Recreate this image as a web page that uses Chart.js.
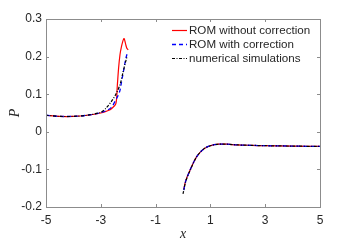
<!DOCTYPE html>
<html>
<head>
<meta charset="utf-8">
<script src="https://cdn.jsdelivr.net/npm/chart.js@4/dist/chart.umd.min.js"></script>
<style>
  html, body { margin: 0; padding: 0; background: #fff; }
  #wrap { width: 354px; height: 243px; }
</style>
</head>
<body>
<div id="wrap"><canvas id="myChart"></canvas></div>
<script>
// left branch (x < -2)
const leftX = [-5, -4.5, -4, -3.5, -3, -2.75, -2.6, -2.45, -2.4, -2.35, -2.3, -2.25, -2.2, -2.15, -2.1, -2.05, -2.0];
const leftRed = [0.044, 0.041, 0.041, 0.044, 0.050, 0.056, 0.062, 0.075, 0.12, 0.17, 0.205, 0.225, 0.24, 0.248, 0.235, 0.222, 0.218];
const leftBlue = [0.044, 0.041, 0.041, 0.044, 0.051, 0.058, 0.066, 0.085, 0.092, 0.10, 0.11, 0.13, 0.15, 0.17, 0.19, 0.205, 0.213];
const leftBlackX = [-5, -4.5, -4, -3.5, -3, -2.8, -2.6, -2.45, -2.3, -2.2, -2.1, -2.05];
const leftBlack = [0.044, 0.041, 0.041, 0.044, 0.052, 0.064, 0.082, 0.10, 0.125, 0.155, 0.185, 0.198];

// right branch (x > 0)
const rightX = [0.03, 0.1, 0.25, 0.5, 0.75, 1, 1.3, 1.6, 2, 2.5, 3, 4, 5];
const rightRed = [-0.152, -0.13, -0.103, -0.066, -0.046, -0.037, -0.033, -0.033, -0.035, -0.036, -0.037, -0.038, -0.039];
const rightBlue = [-0.155, -0.131, -0.103, -0.066, -0.046, -0.037, -0.033, -0.033, -0.035, -0.036, -0.037, -0.038, -0.039];
const rightBlackX = [0, 0.1, 0.25, 0.5, 0.75, 1, 1.3, 1.6, 2, 2.5, 3, 4, 5];
const rightBlack = [-0.165, -0.132, -0.104, -0.066, -0.046, -0.037, -0.033, -0.033, -0.035, -0.036, -0.037, -0.038, -0.039];

const xTicks = [-5, -3, -1, 1, 3, 5];
const yTicks = [-0.2, -0.1, 0, 0.1, 0.2, 0.3];
const labels = ['ROM without correction', 'ROM with correction', 'numerical simulations'];

function joinBranches(x1, y1, x2, y2) {
    const pts = x1.map((x, i) => ({ x: x, y: y1[i] }));
    pts.push({ x: -1, y: null });
    x2.forEach((x, i) => pts.push({ x: x, y: y2[i] }));
    return pts;
}

// box with inward ticks on all four sides
const frame = {
    id: 'frame',
    afterDatasetsDraw(chart) {
        const { ctx, chartArea: a, scales } = chart;
        ctx.save();
        ctx.strokeStyle = '#8c8c8c';
        ctx.lineWidth = 1;
        ctx.strokeRect(a.left + 0.5, a.top + 0.5, a.right - a.left, a.bottom - a.top);
        ctx.beginPath();
        xTicks.forEach(v => {
            const px = Math.round(scales.x.getPixelForValue(v)) + 0.5;
            ctx.moveTo(px, a.bottom); ctx.lineTo(px, a.bottom - 3);
            ctx.moveTo(px, a.top); ctx.lineTo(px, a.top + 3);
        });
        yTicks.forEach(v => {
            const py = Math.round(scales.y.getPixelForValue(v)) + 0.5;
            ctx.moveTo(a.left, py); ctx.lineTo(a.left + 3, py);
            ctx.moveTo(a.right, py); ctx.lineTo(a.right - 3, py);
        });
        ctx.stroke();
        ctx.restore();
    }
};

// legend in the top right corner, no box
const legendBox = {
    id: 'legendBox',
    afterDraw(chart) {
        const { ctx, chartArea: a } = chart;
        ctx.save();
        ctx.font = '11.6px "Liberation Sans"';
        ctx.textBaseline = 'middle';
        chart.data.datasets.forEach((ds, i) => {
            const y = a.top + 11.5 + i * 14;
            const x0 = a.right - 148;
            ctx.strokeStyle = ds.borderColor;
            ctx.lineWidth = ds.borderWidth;
            ctx.setLineDash(ds.borderDash || []);
            ctx.beginPath();
            ctx.moveTo(x0, y);
            ctx.lineTo(x0 + 15, y);
            ctx.stroke();
            ctx.setLineDash([]);
            ctx.fillStyle = '#262626';
            ctx.fillText(ds.label, x0 + 17, y);
        });
        ctx.restore();
    }
};

const ctx = document.getElementById('myChart').getContext('2d');
const myChart = new Chart(ctx, {
    type: 'scatter',
    data: {
        datasets: [{
            label: labels[0],
            data: joinBranches(leftX, leftRed, rightX, rightRed),
            borderColor: '#ff0000',
            backgroundColor: '#ff0000',
            borderWidth: 1.2,
            order: 3
        }, {
            label: labels[1],
            data: joinBranches(leftX, leftBlue, rightX, rightBlue),
            borderColor: '#0000ff',
            backgroundColor: '#0000ff',
            borderWidth: 1.3,
            borderDash: [4, 3],
            order: 2
        }, {
            label: labels[2],
            data: joinBranches(leftBlackX, leftBlack, rightBlackX, rightBlack),
            borderColor: '#000000',
            backgroundColor: '#000000',
            borderWidth: 1.2,
            borderDash: [3, 1.5, 1, 1.5],
            order: 1
        }]
    },
    options: {
        responsive: true,
        maintainAspectRatio: false,
        animation: false,
        showLine: true,
        spanGaps: false,
        elements: {
            point: { radius: 0, hoverRadius: 0 },
            line: { tension: 0.3, fill: false }
        },
        layout: { padding: { top: 19, right: 34, left: 0, bottom: 0 } },
        plugins: {
            tooltip: { enabled: false },
            legend: { display: false }
        },
        scales: {
            x: {
                type: 'linear',
                min: -5,
                max: 5,
                afterBuildTicks: s => { s.ticks = xTicks.map(v => ({ value: v })); },
                afterFit: s => { s.height = 36; },
                grid: { display: false, drawTicks: false },
                border: { display: false },
                ticks: {
                    padding: 6,
                    color: '#262626',
                    font: { family: 'Liberation Sans', size: 12 },
                    callback: v => String(v)
                },
                title: {
                    display: true,
                    text: 'x',
                    padding: { top: 0, bottom: 0 },
                    color: '#262626',
                    font: { family: 'Liberation Serif', size: 14, style: 'italic' }
                }
            },
            y: {
                min: -0.2,
                max: 0.3,
                afterBuildTicks: s => { s.ticks = yTicks.map(v => ({ value: v })); },
                afterFit: s => { s.width = 46; },
                grid: { display: false, drawTicks: false },
                border: { display: false },
                ticks: {
                    padding: 4,
                    color: '#262626',
                    font: { family: 'Liberation Sans', size: 12 },
                    callback: v => (Math.round(v * 10) / 10).toString()
                },
                title: {
                    display: true,
                    text: 'P',
                    padding: { top: 7, bottom: 0 },
                    color: '#262626',
                    font: { family: 'Liberation Serif', size: 14, style: 'italic' }
                }
            }
        }
    },
    plugins: [frame, legendBox]
});
</script>
</body>
</html>
